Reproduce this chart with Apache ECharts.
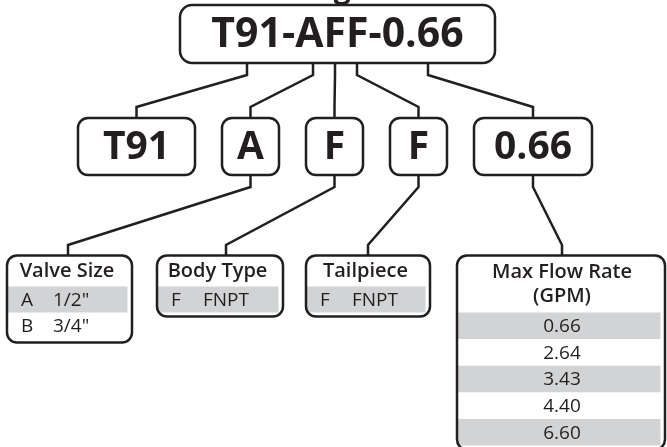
<!DOCTYPE html>
<html>
<head>
<meta charset="utf-8">
<script src="https://cdn.jsdelivr.net/npm/echarts@6/dist/echarts.min.js"></script>
<style>
html,body{margin:0;padding:0;background:#fff;}
#chart{width:667px;height:447px;}
</style>
</head>
<body>
<div id="chart"></div>
<script>
// ---- content (data) ----
const pageTitle = 'Shower Valve Ordering Guide';
const codeParts = ['T91', 'A', 'F', 'F', '0.66'];
const fullCode = codeParts[0] + '-' + codeParts[1] + codeParts[2] + codeParts[3] + '-' + codeParts[4];
const headers = ['Valve Size', 'Body Type', 'Tailpiece', 'Max Flow Rate\n(GPM)'];
const valveSizes = [['A', '1/2"'], ['B', '3/4"']];
const bodyTypes = [['F', 'FNPT']];
const tailpieces = [['F', 'FNPT']];
const flowRates = ['0.66', '2.64', '3.43', '4.40', '6.60'];

// ---- layout ----
const INK = '#231f20', GRAY = '#d1d3d4', LW = 2.5, FONT = '"Open Sans", sans-serif';
const topBox = {x: 180, y: 5, w: 315, h: 58, r: 12};
const topStubX = [247, 313, 335, 357, 428];
const rowBoxes = [{x: 78, w: 117}, {x: 222, w: 57}, {x: 306, w: 57}, {x: 390, w: 57}, {x: 474, w: 118}];
const rowY = 118, rowH = 57;
const bottomStubX = [68, 226, 368, 562];
const bottomY = 255.5;
const tables = [
  {x: 7,   w: 125, headH: 31, rowH: 26,   rows: valveSizes, cx: 67,    cols: true},
  {x: 157, w: 126, headH: 31, rowH: 26,   rows: bodyTypes,  cx: 217.5, cols: true},
  {x: 306, w: 124, headH: 31, rowH: 26,   rows: tailpieces, cx: 365.5, cols: true},
  {x: 457, w: 208, headH: 57, rowH: 26.6, rows: flowRates.map(v => [v]), cx: 562, cols: false}
];

const g = [];
const NOFILL = 'rgba(0,0,0,0)';
function rrect(x, y, w, h, r) {
  g.push({type: 'rect', z: 10, shape: {x, y, width: w, height: h, r}, style: {fill: NOFILL, stroke: INK, lineWidth: LW}});
}
function band(x, y, w, h) {
  g.push({type: 'rect', z: 1, shape: {x, y, width: w, height: h}, style: {fill: GRAY}});
}
function txt(x, y, t, size, weight, align, lh) {
  g.push({type: 'text', z: 20, x, y, style: {text: t, font: weight + ' ' + size + 'px ' + FONT, fill: INK,
    align: align || 'center', verticalAlign: 'middle', lineHeight: lh || size * 1.25}});
}
function poly(pts) {
  g.push({type: 'polyline', z: 5, shape: {points: pts}, style: {stroke: INK, lineWidth: LW, fill: null, lineJoin: 'miter'}});
}

// clipped page title (only its lower edge shows)
txt(8, -11, pageTitle, 30, 'bold', 'left');

// top code box
rrect(topBox.x, topBox.y, topBox.w, topBox.h, topBox.r);
txt(topBox.x + topBox.w / 2, topBox.y + topBox.h / 2 + 1.5, fullCode, 41, 'bold');

// part boxes
codeParts.forEach((p, i) => {
  const b = rowBoxes[i];
  const cx = b.x + b.w / 2;
  rrect(b.x, rowY, b.w, rowH, 10);
  txt(cx, rowY + rowH / 2 + 1, p, 39, 'bold');
  const sx = topStubX[i];
  poly([[sx, topBox.y + topBox.h], [sx, 75], [cx, 107], [cx, rowY]]);
});

// lower connectors
for (let i = 1; i < codeParts.length; i++) {
  const b = rowBoxes[i];
  const cx = b.x + b.w / 2;
  const sx = bottomStubX[i - 1];
  poly([[cx, rowY + rowH], [cx, 187], [sx, 245], [sx, bottomY]]);
}

// tables
tables.forEach((t, k) => {
  const h = t.headH + t.rows.length * t.rowH + 4;
  rrect(t.x, bottomY, t.w, h, 10);
  txt(t.cx, bottomY + t.headH / 2 + 0.5, headers[k], 20, 600, 'center', 24);
  t.rows.forEach((r, j) => {
    const y0 = bottomY + t.headH + j * t.rowH;
    if (j % 2 === 0) band(t.x, y0, t.w - 4.5, t.rowH);
    const cy = y0 + t.rowH / 2 + 1;
    if (t.cols) {
      txt(t.x + 14, cy, r[0], 19, 'normal', 'left');
      txt(t.x + 46, cy, r[1], 19, 'normal', 'left');
    } else {
      txt(t.cx, cy, r[0], 19, 'normal', 'center');
    }
  });
});

const chart = echarts.init(document.getElementById('chart'), null, {renderer: 'canvas'});
chart.setOption({animation: false, graphic: {elements: g}});
</script>
</body>
</html>
